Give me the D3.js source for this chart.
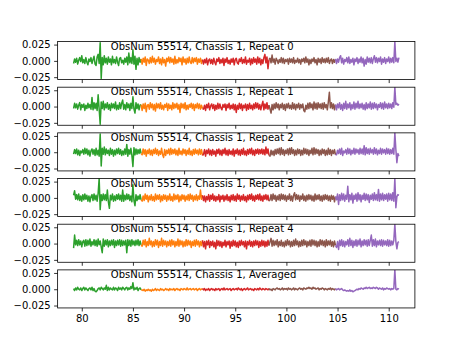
<!DOCTYPE html>
<html><head><meta charset="utf-8">
<script src="https://cdn.jsdelivr.net/npm/d3@7"></script>
<style>body{margin:0;background:#fff}svg{display:block}text{font-family:"DejaVu Sans",sans-serif}</style>
</head><body>
<script>
// ---- data ----
const panelTitles = [
  "ObsNum 55514, Chassis 1, Repeat 0",
  "ObsNum 55514, Chassis 1, Repeat 1",
  "ObsNum 55514, Chassis 1, Repeat 2",
  "ObsNum 55514, Chassis 1, Repeat 3",
  "ObsNum 55514, Chassis 1, Repeat 4",
  "ObsNum 55514, Chassis 1, Averaged"
];
const bandEdges = [79.2, 85.85, 91.85, 98.35, 104.85, 111.05];
const bandColors = ["#2ca02c", "#ff7f0e", "#d62728", "#8c564b", "#9467bd"];
const freqStart = 79.2, freqStep = 0.1;   // channel grid (GHz)
const valueUnit = 0.001;                  // values below are in units of 0.001
const xTicks = [80, 85, 90, 95, 100, 105, 110];
const yTicks = [-0.025, 0, 0.025];
const yDomain = [-0.0287, 0.0297];

const repeat0 = [
  -4,3,-2,4,-5,1,5,-1,8,-3, 2,-4,5,-2,-6,3,-1,5,-4,2, 7,-5,-7,6,10,-4,28,-27,5,-6, 8,-3,4,-5,6,-2,3,-6,7,-3, 2,-4,6,-2,-7,4,5,-3,1,-5, 4,-2,6,-6,12,-3,5,-4,17,-5, 7,-13,4,-6,5,-2,3,
  -5,4,-2,6,-7,3,1,-4,5,-3, 7,-2,4,-5,2,-1,6,-4,3,-6, 5,-3,2,-8,4,-1,6,-3,5,-2, 3,-5,7,-4,2,-3,5,-1,4,-6, 6,-2,3,-5,4,-3,6,-2,-4,5, -3,4,-1,5,-5,3,-2,4,-4,2,
  -5,2,-3,4,-6,1,3,-4,2,-5, 4,-2,-6,3,-1,5,-4,2,-3,4, -7,3,-2,5,-4,1,-5,3,-2,4, -6,2,4,-3,-5,3,-1,5,-4,2, -3,6,-5,1,-2,4,-6,3,-4,5, -2,3,-5,6,-3,4,-6,2,-4,5, 10,-3,6,-12,2,
  4,-3,9,-2,3,-5,4,1,-4,2, -2,5,-3,4,-4,2,-1,3,-5,4, -2,3,-3,5,-4,1,-2,4,-3,2, -5,3,-1,4,-3,6,-2,3,-6,2, -4,3,-1,5,-3,2,-6,4,-2,3, -4,5,-2,3,-3,4,-2,5,-4,1, 3,-4,2,-2,3,
  -4,3,-2,5,8,-3,4,-5,2,-1, 5,-3,6,-4,2,-2,4,-6,3,-1, 5,-4,3,-2,6,-3,4,-8,2,-5, 6,-2,4,-3,5,-4,3,8,-2,5, -3,4,-1,6,-5,3,-2,5,-4,3, -1,6,-3,4,-2,5,-3,30,-1,4, -2,5
];
const repeat1 = [
  -3,5,-2,4,-4,2,6,-5,3,-1, 4,-6,2,-3,5,-2,3,-4,14,-5, 6,-3,5,-6,18,-4,-27,7,-3,8, -5,4,-2,6,-4,3,-6,5,-2,4, -3,7,-5,2,-4,6,-3,5,10,-4, 3,-5,6,-2,4,-6,5,-3,15,-4, -10,6,-3,4,-5,2,3,
  -6,4,-3,5,-8,2,3,-4,6,-2, 4,-5,3,-7,5,-2,4,-3,6,-4, 2,-5,3,-1,5,-6,4,-3,2,-5, 6,-3,4,-2,5,-4,3,-9,5,-2, 4,-3,6,-5,2,-4,3,-1,5,-3, 4,-6,3,-2,5,-3,4,-4,2,-3,
  -4,2,-6,3,-2,5,-5,1,4,-3, 3,-6,2,-4,5,-3,4,-2,-5,3, -1,4,-6,3,-2,5,-4,2,-3,4, -5,3,-9,2,-4,5,-3,4,-6,2, -2,4,-6,3,-4,5,-3,2,-5,4, -3,6,-2,5,-4,3,-5,2,8,-5, 4,-3,6,-4,2,
  -4,-10,3,-5,4,-3,6,-2,4,-5, 3,-2,5,-4,3,-6,4,-2,5,-3, 2,-4,6,-3,4,-5,3,-2,5,-4, 3,-2,4,-6,-8,2,-4,5,-3,6, -2,4,-5,7,-3,5,-4,6,-2,4, -3,5,-4,6,-2,3,-5,7,22,-2, 6,-3,4,-5,3,
  -5,4,-2,6,-4,3,-6,5,-3,8, -4,4,-2,6,-5,3,-3,7,-4,5, -2,8,-3,4,-2,5,-4,3,-5,6, -3,4,-2,7,-4,5,-3,6,-2,4, -5,3,-1,6,-3,5,-4,7,-2,4, -3,5,-2,4,-3,6,-1,30,3,5, 2,4
];
const repeat2 = [
  -3,4,-2,5,-4,3,-5,2,-1,4, -3,6,-2,5,-4,3,-6,2,5,-3, 4,-5,6,-4,3,-6,28,-21,6,-3, 8,-4,5,-2,3,-5,6,-3,4,-6, 3,-4,5,-2,6,-3,4,-5,2,-4, 5,-3,12,-6,4,-3,6,-5,-22,7, -4,5,-3,4,-2,5,-2,
  -4,5,-3,4,-6,3,-2,5,-4,3, -5,4,-2,6,-3,4,-5,2,-3,6, -4,-8,4,-5,3,-2,5,-4,6,-3, 4,-2,5,-4,3,-5,6,-3,2,-4, 5,-2,4,-5,3,-3,6,-4,2,-5, 4,-3,5,-2,3,-4,5,-3,4,-5,
  -3,4,-6,3,-2,5,-4,3,-5,4, -3,2,-6,4,-2,5,-4,3,-5,4, -2,6,-4,3,-5,4,-3,2,-4,5, -6,3,-2,5,-4,3,-5,4,-3,6, -4,2,-5,4,-3,5,-2,6,-4,3, -5,4,-2,5,-3,4,-2,5,-3,4, -4,8,-2,5,-5,
  -6,3,-4,2,-5,4,-3,5,-2,6, -4,7,-3,4,-5,3,-2,5,-4,6, -3,7,-2,4,-5,3,-4,5,-2,4, -5,3,-4,6,-2,5,-3,4,-5,3, -2,6,-4,7,-3,5,-2,4,-5,3, -4,5,-2,4,-5,3,-4,6,-3,4, -5,3,-2,4,-4,
  -4,3,-2,5,-3,6,-5,2,-1,4, -3,6,-2,5,-4,3,-2,6,-3,5, -1,4,-3,6,-2,5,-3,10,-4,7, -2,5,-3,6,-1,4,-3,7,-2,5, -4,3,-2,6,-3,5,-1,4,-3,6, -2,5,-3,4,-2,6,-3,30,4,-16, -2,-6
];
const repeat3 = [
  4,11,-2,5,-3,6,-4,3,-5,5, -3,6,-2,4,-5,3,-6,2,5,-4, 6,-3,4,-5,7,30,-18,5,-4,6, -3,5,-4,12,-6,-16,4,-3,6,-5, 3,-4,5,-2,6,-3,4,-5,12,-5, 4,-3,6,-2,5,-4,3,-6,20,-4, -12,5,-4,3,-2,5,-3,
  -5,3,-4,6,-2,4,-6,3,-3,5, -4,2,-5,6,-3,4,-2,5,-6,3, -4,5,-2,4,-5,3,-3,6,-4,2, -5,6,-3,4,-2,5,-6,3,-4,5, -2,4,-5,3,-3,5,-4,6,-2,4, -5,3,-3,5,-4,3,-2,12,-2,4,
  -4,3,-6,2,-3,5,-5,4,-2,6, -4,3,-5,2,-3,5,-6,3,-2,4, -5,3,-3,5,-4,2,-6,4,-3,5, -4,3,-5,6,-2,4,-5,3,-3,5, -4,2,-6,4,-3,5,-2,6,-4,3, -5,4,-2,5,-3,6,-4,3,-5,4, -2,5,-3,4,-5,
  -3,5,-4,6,-2,4,-5,3,-3,5, -4,6,-2,5,-3,4,-5,3,-2,6, -4,3,-5,4,8,-3,5,-2,4,-5, 3,-2,6,-4,3,-5,4,-3,5,-2, 4,-4,3,-5,6,-3,4,-2,5,-4, 3,-5,4,-3,5,-2,4,-4,3,-5, 4,-2,3,-6,2,
  -3,6,-10,5,-4,7,-3,6,-5,4, -2,18,-6,5,-3,7,-8,4,-2,6, -5,8,-3,5,-6,4,-2,7,-4,6, -3,5,-7,4,-2,6,-4,8,-3,5, -4,13,-5,6,-3,7,-4,5,-2,6, -5,7,-3,6,-4,8,-5,30,-15,2, 5,4
];
const repeat4 = [
  -7,13,-2,5,-3,6,-2,4,-5,3, 5,-4,6,-3,5,-2,7,-4,3,-2, 6,-3,5,-4,7,-2,4,-5,-14,7, -4,5,-2,6,-5,4,-3,5,-2,6, -6,4,-3,5,-2,6,-4,5,-3,4, -2,5,-14,6,-3,5,-4,6,-2,4, -3,5,-2,6,-3,4,-2,
  -4,5,-2,6,-5,3,-3,8,-2,4, -5,3,-4,6,-2,5,-6,3,-3,8, -4,5,-2,4,-5,3,-3,5,-4,6, -2,4,-5,3,-3,7,-4,5,-2,4, -5,3,-4,6,-3,5,-2,4,-6,3, -3,5,-4,6,-2,4,-5,3,-3,5,
  -5,3,-8,4,-2,5,-6,3,-3,4, -5,2,-8,5,-3,4,-4,3,-6,2, -3,5,-5,3,-2,4,-7,3,-4,5, -3,4,-5,2,-6,4,-3,5,-2,3, -5,4,-8,3,-2,5,-4,3,-5,4, -3,5,-2,4,-6,3,-4,5,-3,4, -5,3,-4,5,-3,
  3,8,-4,5,-3,4,-2,6,-5,3, -3,5,-4,2,-5,4,-3,6,-2,4, -5,3,-4,5,-3,7,-2,4,-5,3, -4,5,-3,6,-2,4,-5,3,-3,5, -4,6,-2,5,-3,4,-5,3,-4,6, -2,5,-3,4,-5,6,-3,4,-2,5, -4,3,-5,4,-3,
  -6,3,-9,5,-3,6,-4,4,-5,3, -2,6,-4,8,-3,5,-6,4,-3,6, -4,5,-2,7,-5,4,-3,6,-2,5, -4,6,-3,5,13,-4,6,-3,7,-5, 4,-2,5,-3,6,-4,5,-2,4,-3, 6,-4,5,-3,4,-2,5,30,3,-8, 2,3
];
const averaged = [
  1,-2,2,-1,3,0,-1,2,-2,1, 3,-1,2,0,-2,1,2,-1,3,-2, 1,-3,-4,-2,1,2,-1,3,1,-1, 2,0,6,-2,3,-1,2,0,-1,3, -1,2,1,-2,3,0,2,-1,3,1, -1,2,3,-1,2,0,4,1,10,-1, 2,0,3,-2,1,2,-1,
  -1,-2,0,-3,-1,-2,0,-2,-1,-3, 0,-2,-1,1,-2,0,-1,-2,1,-1, 0,-2,-1,1,-1,0,-2,1,-1,0, -1,1,-2,0,1,-1,0,-2,1,0, -1,1,0,-1,2,-1,0,1,-1,0, 1,-1,0,1,-2,0,1,-1,0,1,
  -1,1,-2,0,-1,1,-2,0,1,-1, 0,-2,1,-1,0,1,-2,0,1,-1, 2,-1,0,1,-1,0,1,-2,0,1, -1,0,1,-1,2,0,-1,1,-2,0, 1,-1,0,2,-1,0,1,-1,0,-2, 1,0,-1,1,-1,2,0,-1,1,0, -1,1,0,-1,1,
  -1,0,-2,1,0,-1,1,2,0,1, -1,0,2,-1,1,0,1,-1,2,0, 1,-1,0,2,-1,1,0,-1,1,2, 0,1,-1,2,1,0,2,1,3,1, 2,0,3,1,2,0,1,2,-1,1, 0,2,1,-1,1,0,-1,1,0,2, -1,1,0,-1,1,
  -1,0,1,-1,0,1,-1,-2,-1,-2, -3,-2,-3,-1,-3,-2,-4,-3,-2,-1, 0,-1,1,0,2,1,0,2,1,3, 1,2,3,1,2,1,3,2,1,3, 2,0,2,1,0,2,-1,1,0,2, 1,0,1,-1,1,0,1,30,0,-1, 1,0
];
const panelSeries = [repeat0, repeat1, repeat2, repeat3, repeat4, averaged];

// ---- layout ----
const W = 461, H = 346;
const plotLeft = 0.125 * W, plotRight = 0.9 * W;
const plotTop = 0.12 * H, plotBottom = 0.89 * H;
const nPanels = panelSeries.length, hspace = 0.2;
const ph = (plotBottom - plotTop) / (nPanels + (nPanels - 1) * hspace);
const gap = ph * hspace;

const svg = d3.select("body").append("svg").attr("width", W).attr("height", H);
const x = d3.scaleLinear().domain([77.64, 112.56]).range([plotLeft, plotRight]);
const fmt = d3.format(".3f");

panelSeries.forEach((vals, p) => {
  const y0 = plotTop + p * (ph + gap);
  const y = d3.scaleLinear().domain(yDomain).range([y0 + ph, y0]);
  const g = svg.append("g");
  const clipId = "clip" + p;
  g.append("clipPath").attr("id", clipId).append("rect")
    .attr("x", plotLeft).attr("y", y0).attr("width", plotRight - plotLeft).attr("height", ph);

  const pts = vals.map((v, i) => ({ f: freqStart + i * freqStep, v: v * valueUnit }));
  const line = d3.line().x(d => x(d.f)).y(d => y(d.v));
  const lg = g.append("g").attr("clip-path", `url(#${clipId})`);
  bandColors.forEach((c, k) => {
    let idx = [];
    pts.forEach((d, i) => { if (d.f >= bandEdges[k] - 1e-6 && d.f < bandEdges[k + 1]) idx.push(i); });
    if (k > 0 && idx.length && idx[0] > 0) idx.unshift(idx[0] - 1);
    const seg = idx.map(i => pts[i]);
    lg.append("path").datum(seg).attr("d", line)
      .attr("fill", "none").attr("stroke", c).attr("stroke-width", 1.5)
      .attr("stroke-linejoin", "round").attr("stroke-linecap", "butt");
  });

  // y axis
  const ya = g.append("g").attr("transform", `translate(${plotLeft},0)`)
    .call(d3.axisLeft(y).tickValues(yTicks).tickSize(3.5).tickPadding(3.5).tickFormat(fmt));
  ya.select(".domain").remove();
  ya.selectAll("line").attr("stroke", "#000").attr("stroke-width", 0.8);
  ya.selectAll("text").attr("font-size", 10).attr("fill", "#000")
    .attr("font-family", "DejaVu Sans, sans-serif");

  // x axis
  const xa = g.append("g").attr("transform", `translate(0,${y0 + ph})`)
    .call(d3.axisBottom(x).tickValues(xTicks).tickSize(3.5).tickPadding(3.5)
      .tickFormat(p === nPanels - 1 ? d3.format("d") : () => ""));
  xa.select(".domain").remove();
  xa.selectAll("line").attr("stroke", "#000").attr("stroke-width", 0.8);
  xa.selectAll("text").attr("font-size", 10).attr("fill", "#000")
    .attr("font-family", "DejaVu Sans, sans-serif");

  // frame
  g.append("rect").attr("x", plotLeft).attr("y", y0).attr("width", plotRight - plotLeft).attr("height", ph)
    .attr("fill", "none").attr("stroke", "#000").attr("stroke-width", 0.8);

  // panel label
  g.append("text").attr("x", plotLeft + 0.149 * (plotRight - plotLeft)).attr("y", y0 + 8)
    .attr("font-size", 10).attr("fill", "#000").text(panelTitles[p]);
});
</script>
</body></html>
